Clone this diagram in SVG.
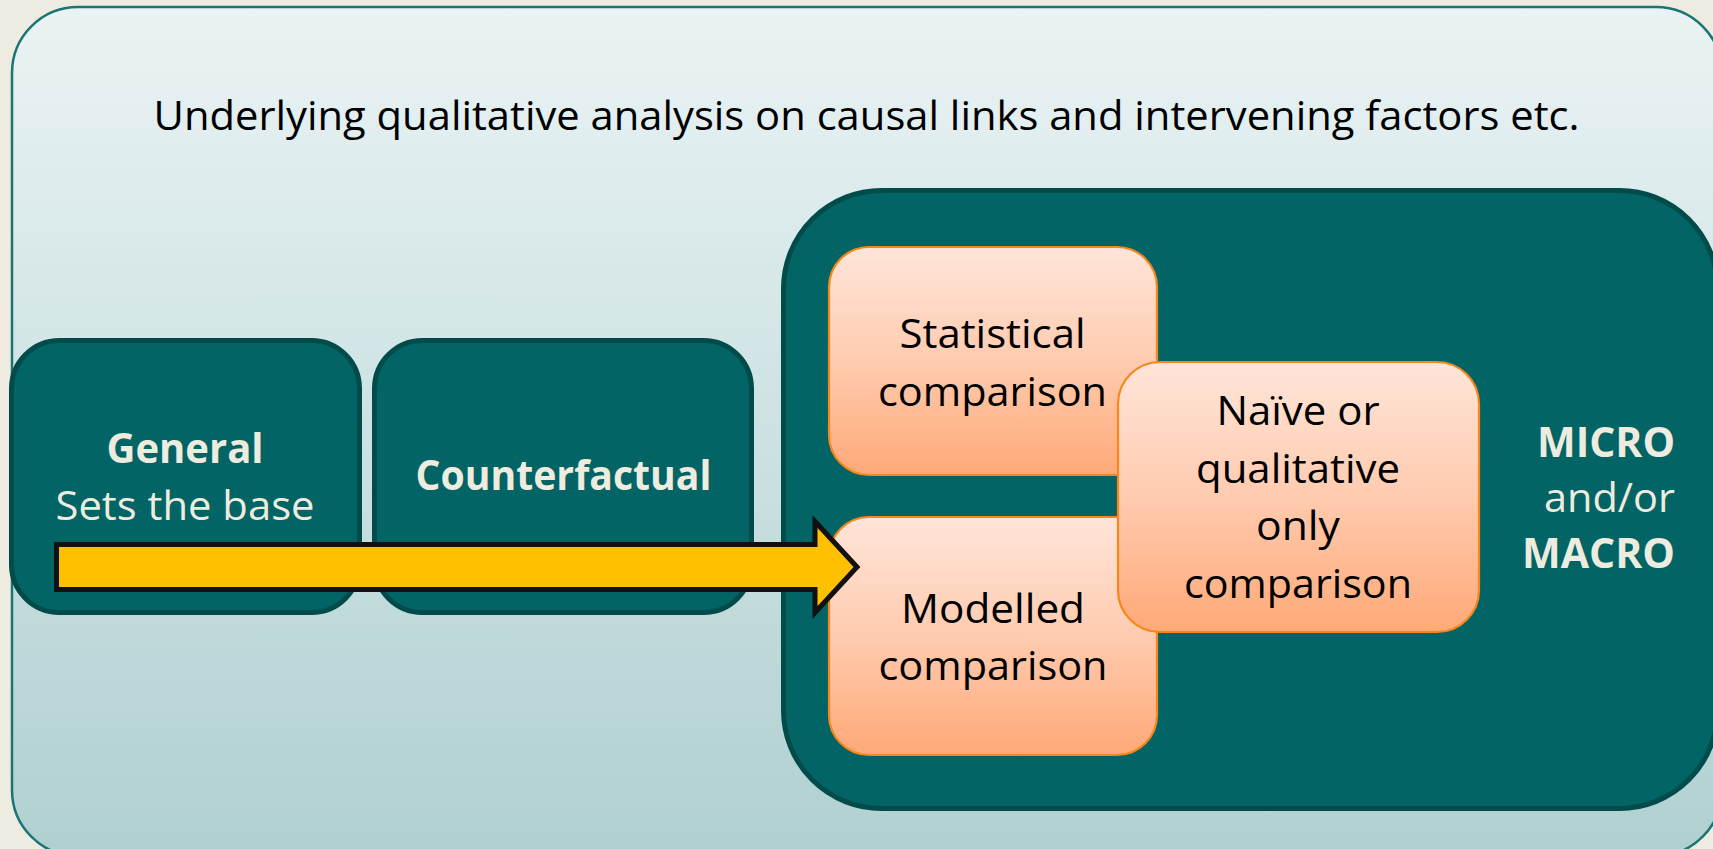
<svg xmlns="http://www.w3.org/2000/svg" width="1713" height="849" viewBox="0 0 1713 849">
  <defs>
    <linearGradient id="paneFill" x1="0" y1="0" x2="0" y2="1">
      <stop offset="0" stop-color="#EAF3F4"/>
      <stop offset="1" stop-color="#B0D0D0"/>
    </linearGradient>
    <linearGradient id="peachFill" x1="0" y1="0" x2="0" y2="1">
      <stop offset="0" stop-color="#FFE5D9"/>
      <stop offset="0.5" stop-color="#FFCBAF"/>
      <stop offset="1" stop-color="#FFA977"/>
    </linearGradient>
    <style>
      .teal { fill: #026464; stroke: #014B4B; stroke-width: 5; }
      .peach { fill: url(#peachFill); stroke: #F8861A; stroke-width: 2.2; }
      .txt { font-family: "Open Sans", "Liberation Sans", sans-serif; font-size: 41px; text-anchor: middle; }
      .end { text-anchor: end; }
      .dark { fill: #000000; }
      .light { fill: #EEEBDF; }
      .bold { font-weight: bold; }
    </style>
  </defs>

  <!-- page -->
  <rect x="0" y="0" width="1713" height="849" fill="#EEECE1"/>

  <!-- outer pane -->
  <g id="pane">
    <rect x="12" y="7" width="1710" height="849" rx="66" ry="66" fill="url(#paneFill)" stroke="#1B7575" stroke-width="2.5"/>
    <text class="txt dark" x="866.5" y="130" textLength="1426" lengthAdjust="spacingAndGlyphs">Underlying qualitative analysis on causal links and intervening factors etc.</text>
  </g>

  <!-- general -->
  <g id="general">
    <rect class="teal" x="11.5" y="340.5" width="348" height="272" rx="48" ry="48"/>
    <text class="txt light bold" x="185" y="463" textLength="157" lengthAdjust="spacingAndGlyphs">General</text>
    <text class="txt light" x="185" y="520" textLength="259" lengthAdjust="spacingAndGlyphs">Sets the base</text>
  </g>

  <!-- counterfactual -->
  <g id="counterfactual">
    <rect class="teal" x="374.5" y="340.5" width="377" height="272" rx="48" ry="48"/>
    <text class="txt light bold" x="563.5" y="490" textLength="296" lengthAdjust="spacingAndGlyphs">Counterfactual</text>
  </g>

  <!-- micro / macro container -->
  <g id="micro-macro">
    <rect class="teal" x="783.5" y="190.5" width="934" height="618" rx="98" ry="98"/>
    <text class="txt end light bold" x="1675" y="457" textLength="138" lengthAdjust="spacingAndGlyphs">MICRO</text>
    <text class="txt end light" x="1675" y="512" textLength="131" lengthAdjust="spacingAndGlyphs">and/or</text>
    <text class="txt end light bold" x="1675" y="568" textLength="153" lengthAdjust="spacingAndGlyphs">MACRO</text>
  </g>

  <!-- statistical -->
  <g id="statistical">
    <rect class="peach" x="829" y="247" width="328" height="228" rx="40" ry="40"/>
    <text class="txt dark" x="992.5" y="348" textLength="186" lengthAdjust="spacingAndGlyphs">Statistical</text>
    <text class="txt dark" x="992.5" y="406" textLength="229" lengthAdjust="spacingAndGlyphs">comparison</text>
  </g>

  <!-- modelled -->
  <g id="modelled">
    <rect class="peach" x="829" y="517" width="328" height="238" rx="40" ry="40"/>
    <text class="txt dark" x="993" y="623" textLength="184" lengthAdjust="spacingAndGlyphs">Modelled</text>
    <text class="txt dark" x="993" y="680" textLength="229" lengthAdjust="spacingAndGlyphs">comparison</text>
  </g>

  <!-- naive -->
  <g id="naive">
    <rect class="peach" x="1118" y="362" width="361" height="270" rx="42" ry="42"/>
    <text class="txt dark" x="1298" y="425" textLength="163" lengthAdjust="spacingAndGlyphs">Naïve or</text>
    <text class="txt dark" x="1298" y="483" textLength="204" lengthAdjust="spacingAndGlyphs">qualitative</text>
    <text class="txt dark" x="1298" y="540" textLength="84" lengthAdjust="spacingAndGlyphs">only</text>
    <text class="txt dark" x="1298" y="598" textLength="228" lengthAdjust="spacingAndGlyphs">comparison</text>
  </g>

  <!-- connectors -->
  <g id="connectors">
    <polygon points="56.5,544.5 815,544.5 815,521.5 857,567 815,612.5 815,589.5 56.5,589.5" fill="#FFC000" stroke="#111111" stroke-width="5" stroke-linejoin="miter" stroke-miterlimit="10"/>
  </g>
</svg>
